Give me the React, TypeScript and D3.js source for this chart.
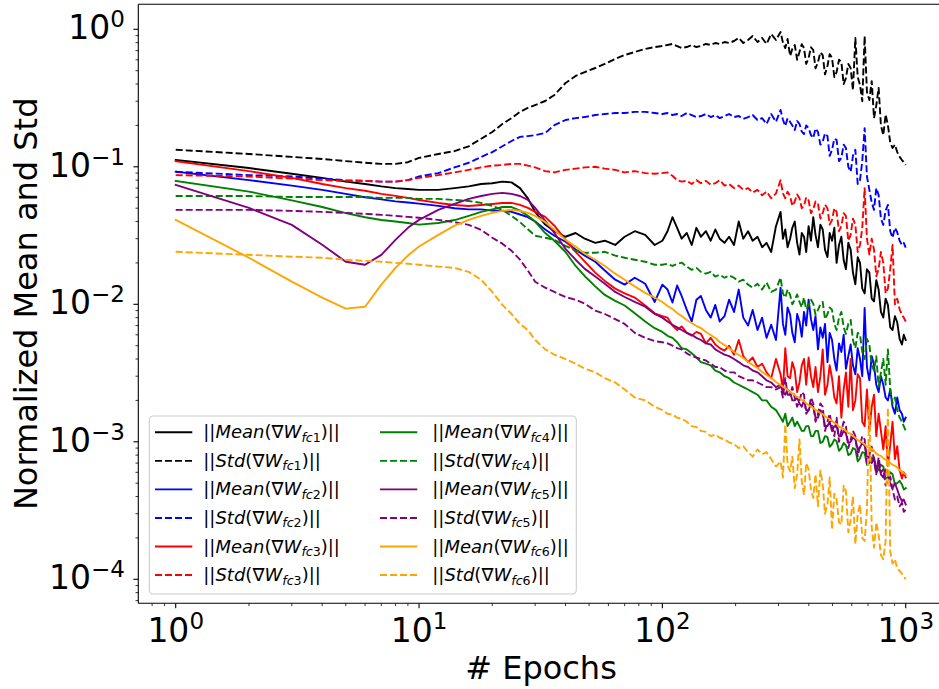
import React from "react";
import * as d3 from "d3";

// ---------------- data ----------------
const epochs = [
  1, 2, 3, 4, 5, 6, 7, 8, 9, 10, 12, 14, 16, 18, 20, 22, 24, 26, 28, 30,
  33, 36, 40, 44, 48, 53, 58, 64, 70, 77, 85, 93,
  100, 105, 110, 115, 120, 126, 132, 138, 144, 151, 158, 165, 172, 180, 188,
  197, 206, 215, 225, 235, 246, 257, 268, 280, 293,
  306, 313, 320, 327, 335, 342, 350, 358, 366, 374, 382, 390, 399, 408, 417,
  426, 436, 446, 456, 466, 477, 487, 498, 509, 520, 532, 544, 556, 568, 581,
  594, 607, 621, 635, 649, 663, 678, 693, 709, 725, 741, 757, 774, 791, 809,
  827, 845, 864, 883, 903, 923, 944, 965, 982, 1000,
];

const meanFc1 = [
  0.112, 0.098, 0.089, 0.083, 0.078, 0.075, 0.072, 0.070, 0.069, 0.068,
  0.068, 0.070, 0.072, 0.075, 0.076, 0.078, 0.077, 0.070, 0.059, 0.047,
  0.038, 0.034, 0.031, 0.033, 0.030, 0.028, 0.029, 0.027, 0.031, 0.034, 0.032, 0.027,
  0.029, 0.034, 0.043, 0.036, 0.030, 0.033, 0.027, 0.036, 0.031, 0.034,
  0.029, 0.035, 0.030, 0.028, 0.031, 0.027, 0.040, 0.030, 0.034, 0.029,
  0.031, 0.026, 0.028, 0.024, 0.037,
  0.047, 0.030, 0.035, 0.026, 0.030,
  0.036, 0.040, 0.028, 0.023, 0.033,
  0.031, 0.024, 0.037, 0.029, 0.043,
  0.032, 0.026, 0.038, 0.035, 0.025,
  0.022, 0.033, 0.029, 0.036, 0.020,
  0.027, 0.031, 0.021, 0.018, 0.028,
  0.025, 0.017, 0.014, 0.022, 0.020,
  0.013, 0.012, 0.018, 0.017, 0.011,
  0.0105, 0.015, 0.0128, 0.0088, 0.0080,
  0.0110, 0.0099, 0.0068, 0.0065, 0.0082,
  0.0074, 0.0056, 0.0051, 0.0060, 0.0055,
];

const stdFc1 = [
  0.133, 0.124, 0.118, 0.114, 0.110, 0.107, 0.105, 0.105, 0.108, 0.116,
  0.124, 0.130, 0.141, 0.160, 0.179, 0.205, 0.226, 0.251, 0.268, 0.281,
  0.301, 0.333, 0.407, 0.458, 0.489, 0.523, 0.560, 0.608, 0.650, 0.684, 0.719, 0.743,
  0.756, 0.769, 0.782, 0.756, 0.731, 0.743, 0.769, 0.743, 0.756, 0.782,
  0.769, 0.795, 0.782, 0.808, 0.795, 0.822, 0.865, 0.795, 0.836, 0.894,
  0.808, 0.865, 0.782, 0.924, 0.836,
  0.956, 0.80, 0.731, 0.85, 0.640,
  0.72, 0.769, 0.60, 0.684, 0.78,
  0.731, 0.56, 0.618, 0.74, 0.707,
  0.52, 0.578, 0.68, 0.650, 0.47,
  0.541, 0.66, 0.618, 0.45, 0.489,
  0.60, 0.578, 0.40, 0.442, 0.56,
  0.523, 0.36, 0.865, 0.45, 0.394,
  0.30, 0.894, 0.35, 0.306, 0.42,
  0.226, 0.28, 0.375, 0.20, 0.170,
  0.24, 0.201, 0.15, 0.137, 0.145,
  0.128, 0.118, 0.112, 0.108, 0.103,
];

const meanFc2 = [
  0.092, 0.080, 0.073, 0.068, 0.0635, 0.060, 0.058, 0.056, 0.055, 0.054,
  0.052, 0.050, 0.049, 0.049, 0.048, 0.048, 0.047, 0.045, 0.043, 0.040,
  0.035, 0.0315, 0.0285, 0.025, 0.0226, 0.0204, 0.0176, 0.0151, 0.0139, 0.0156, 0.0141, 0.0104,
  0.0139, 0.0128, 0.0103, 0.0137, 0.0115, 0.0091, 0.0075, 0.0108, 0.0115, 0.0091,
  0.0080, 0.0099, 0.0075, 0.0082, 0.0108, 0.0088, 0.0128, 0.0080, 0.0070, 0.0091,
  0.0065, 0.0080, 0.0057, 0.0071, 0.0055,
  0.0132, 0.0072, 0.0060, 0.0095, 0.0084,
  0.0062, 0.0053, 0.0085, 0.0075, 0.0058,
  0.0088, 0.0070, 0.0108, 0.0078, 0.0065,
  0.0082, 0.0047, 0.0068, 0.0057, 0.0072,
  0.0038, 0.0062, 0.0055, 0.0040, 0.0033,
  0.0052, 0.0045, 0.0060, 0.0034, 0.0042,
  0.0051, 0.0036, 0.0031, 0.0048, 0.0040,
  0.0030, 0.0094, 0.0035, 0.0028, 0.0042,
  0.0036, 0.0026, 0.0023, 0.0030, 0.0026,
  0.0021, 0.0020, 0.0024, 0.0018, 0.0016,
  0.0021, 0.0017, 0.0016, 0.0014, 0.0015,
];

const stdFc2 = [
  0.092, 0.087, 0.085, 0.082, 0.080, 0.079, 0.078, 0.078, 0.080, 0.085,
  0.090, 0.099, 0.107, 0.118, 0.128, 0.141, 0.154, 0.165, 0.167, 0.170,
  0.176, 0.201, 0.219, 0.226, 0.230, 0.238, 0.242, 0.246, 0.246, 0.251, 0.251, 0.246,
  0.242, 0.246, 0.238, 0.242, 0.234, 0.246, 0.238, 0.230, 0.234, 0.242,
  0.230, 0.238, 0.226, 0.234, 0.242, 0.230, 0.234, 0.223, 0.230, 0.238,
  0.219, 0.226, 0.205, 0.242, 0.212,
  0.259, 0.22, 0.198, 0.225, 0.212,
  0.20, 0.185, 0.215, 0.205, 0.18,
  0.173, 0.20, 0.191, 0.17, 0.162,
  0.19, 0.179, 0.145, 0.152, 0.175,
  0.167, 0.12, 0.133, 0.16, 0.157,
  0.11, 0.116, 0.145, 0.137, 0.10,
  0.092, 0.12, 0.133, 0.075, 0.080,
  0.11, 0.191, 0.085, 0.068, 0.055,
  0.0486, 0.070, 0.0624, 0.042, 0.0378,
  0.048, 0.0528, 0.034, 0.0305, 0.036,
  0.0334, 0.029, 0.0271, 0.028, 0.0258,
];

const meanFc3 = [
  0.110, 0.093, 0.083, 0.075, 0.070, 0.067, 0.0635, 0.0614, 0.0594, 0.0574,
  0.0546, 0.0528, 0.0519, 0.0528, 0.0537, 0.0546, 0.0546, 0.0528, 0.0502, 0.0470,
  0.0432, 0.0373, 0.0294, 0.0241, 0.0204, 0.0170, 0.0148, 0.0130, 0.0120, 0.0112, 0.0098, 0.0086,
  0.0082, 0.0080, 0.0070, 0.0065, 0.0069, 0.0062, 0.0059, 0.0063, 0.0061, 0.0052,
  0.0057, 0.0051, 0.0048, 0.0046, 0.0050, 0.0043, 0.0055, 0.0042, 0.0038, 0.0041,
  0.0035, 0.0037, 0.0032, 0.0029, 0.0040,
  0.0031, 0.0024, 0.0048, 0.0030, 0.0029,
  0.0038, 0.0033, 0.0023, 0.0027, 0.0036,
  0.0040, 0.0026, 0.0041, 0.0030, 0.0025,
  0.0035, 0.0023, 0.0030, 0.0047, 0.0022,
  0.0026, 0.0036, 0.0029, 0.0021, 0.0019,
  0.0030, 0.0015, 0.0024, 0.0032, 0.0018,
  0.0040, 0.0017, 0.0020, 0.0031, 0.0029,
  0.0014, 0.0013, 0.0024, 0.0012, 0.0018,
  0.0022, 0.0011, 0.0016, 0.0012, 0.00088,
  0.0013, 0.00067, 0.00095, 0.0014, 0.00075,
  0.00093, 0.00062, 0.00054, 0.00060, 0.00055,
];

const stdFc3 = [
  0.087, 0.085, 0.082, 0.080, 0.079, 0.079, 0.078, 0.078, 0.080, 0.083,
  0.087, 0.091, 0.095, 0.099, 0.102, 0.103, 0.105, 0.105, 0.102, 0.099,
  0.093, 0.091, 0.095, 0.097, 0.099, 0.100, 0.097, 0.095, 0.091, 0.093, 0.090, 0.089,
  0.090, 0.091, 0.086, 0.080, 0.078, 0.079, 0.075, 0.080, 0.076, 0.079,
  0.074, 0.076, 0.080, 0.073, 0.075, 0.070, 0.073, 0.068, 0.070, 0.065,
  0.068, 0.062, 0.066, 0.059, 0.064,
  0.080, 0.064, 0.059, 0.066, 0.061,
  0.052, 0.056, 0.063, 0.059, 0.050,
  0.052, 0.060, 0.057, 0.046, 0.049,
  0.056, 0.054, 0.042, 0.046, 0.053,
  0.050, 0.038, 0.041, 0.050, 0.047,
  0.034, 0.037, 0.046, 0.044, 0.029,
  0.032, 0.042, 0.038, 0.024, 0.027,
  0.036, 0.070, 0.030, 0.023, 0.030,
  0.025, 0.016, 0.018, 0.024, 0.020,
  0.012, 0.013, 0.018, 0.027, 0.010,
  0.011, 0.0092, 0.0084, 0.0080, 0.0075,
];

const meanFc4 = [
  0.079, 0.066, 0.057, 0.051, 0.046, 0.043, 0.041, 0.040, 0.039, 0.038,
  0.039, 0.041, 0.044, 0.047, 0.049, 0.051, 0.051, 0.048, 0.044, 0.040,
  0.033, 0.029, 0.024, 0.019, 0.016, 0.0135, 0.0117, 0.0106, 0.0098, 0.0086, 0.0075, 0.0067,
  0.0063, 0.0059, 0.0057, 0.0053, 0.0048, 0.0047, 0.0044, 0.0041, 0.0038, 0.0037,
  0.0036, 0.0033, 0.0032, 0.0030, 0.0029, 0.0027, 0.0026, 0.0025, 0.0024, 0.0023,
  0.0022, 0.0020, 0.0020, 0.0018, 0.0017,
  0.0015, 0.0014, 0.0016, 0.0013, 0.0014,
  0.0015, 0.0013, 0.0014, 0.0013, 0.0012,
  0.0012, 0.0013, 0.0013, 0.0011, 0.0011,
  0.0012, 0.0012, 0.00098, 0.0010, 0.0011,
  0.00108, 0.00092, 0.00096, 0.00104, 0.00101,
  0.00086, 0.00090, 0.00098, 0.00094, 0.00080,
  0.00082, 0.00090, 0.00088, 0.00072, 0.00076,
  0.00084, 0.00083, 0.00068, 0.00070, 0.00077,
  0.00074, 0.00060, 0.00063, 0.00068, 0.00066,
  0.00054, 0.00055, 0.00060, 0.00058, 0.00049,
  0.00050, 0.00052, 0.00049, 0.00045, 0.00046,
];

const stdFc4 = [
  0.0613, 0.0613, 0.0603, 0.0603, 0.0603, 0.0603, 0.0594, 0.0594, 0.0594, 0.0584,
  0.0584, 0.0574, 0.0564, 0.0546, 0.0519, 0.0486, 0.0440, 0.0396, 0.0351, 0.0315,
  0.0305, 0.0294, 0.0266, 0.0245, 0.0237, 0.0237, 0.0241, 0.0226, 0.0218, 0.0211, 0.0204, 0.0194,
  0.0194, 0.0197, 0.0190, 0.0197, 0.0201, 0.0188, 0.0178, 0.0184, 0.0172, 0.0167,
  0.0172, 0.0159, 0.0164, 0.0156, 0.0162, 0.0156, 0.0146, 0.0151, 0.0139, 0.0132,
  0.0141, 0.0128, 0.0144, 0.0123, 0.0128,
  0.0156, 0.0120, 0.0112, 0.0128, 0.0117,
  0.0100, 0.0108, 0.0118, 0.0104, 0.0095,
  0.0112, 0.0092, 0.0098, 0.0108, 0.0101,
  0.0084, 0.0091, 0.0100, 0.0104, 0.0078,
  0.0085, 0.0095, 0.0091, 0.0072, 0.0065,
  0.0080, 0.0088, 0.0068, 0.0061, 0.0072,
  0.0077, 0.0055, 0.0048, 0.0062, 0.0060,
  0.0045, 0.0040, 0.0056, 0.0051, 0.0036,
  0.0033, 0.0042, 0.0025, 0.0032, 0.0040,
  0.0026, 0.0047, 0.0024, 0.0019, 0.0021,
  0.0017, 0.0015, 0.0014, 0.0013, 0.0012,
];

const meanFc5 = [
  0.0738, 0.0502, 0.0378, 0.0271, 0.0204, 0.0194, 0.0229, 0.0294, 0.0360, 0.0411,
  0.0486, 0.0537, 0.0584, 0.0613, 0.0635, 0.0646, 0.0635, 0.0613, 0.0574, 0.0502,
  0.0404, 0.0330, 0.0253, 0.0211, 0.0181, 0.0159, 0.0141, 0.0123, 0.0113, 0.0104, 0.0096, 0.0085,
  0.0080, 0.0075, 0.0071, 0.0068, 0.0065, 0.0062, 0.0060, 0.0057, 0.0055, 0.0052,
  0.0051, 0.0047, 0.0045, 0.0043, 0.0042, 0.0040, 0.0038, 0.0036, 0.0035, 0.0033,
  0.0032, 0.0030, 0.0028, 0.0027, 0.0025,
  0.0026, 0.0023, 0.0022, 0.0024, 0.0023,
  0.0020, 0.0020, 0.0021, 0.0019, 0.0018,
  0.0020, 0.0017, 0.0017, 0.0019, 0.0018,
  0.0015, 0.0015, 0.0017, 0.0016, 0.0013,
  0.0013, 0.0014, 0.0012, 0.0013, 0.0013,
  0.0011, 0.0011, 0.0012, 0.00115, 0.00098,
  0.00100, 0.00108, 0.00104, 0.00088, 0.00091,
  0.00098, 0.00094, 0.00078, 0.00081, 0.00070,
  0.00077, 0.00064, 0.00069, 0.00058, 0.00055,
  0.00063, 0.00061, 0.00049, 0.00046, 0.00050,
  0.00045, 0.00040, 0.00037, 0.00038, 0.00035,
];

const stdFc5 = [
  0.0486, 0.0486, 0.0478, 0.0470, 0.0462, 0.0455, 0.0447, 0.0440, 0.0432, 0.0426,
  0.0411, 0.0396, 0.0378, 0.0348, 0.0305, 0.0276, 0.0245, 0.0211, 0.0176, 0.0146,
  0.0132, 0.0123, 0.0113, 0.0108, 0.0101, 0.0090, 0.0085, 0.0078, 0.0072, 0.0062, 0.0057, 0.0054,
  0.0053, 0.0052, 0.0050, 0.0048, 0.0047, 0.0044, 0.0042, 0.0041, 0.0040, 0.0039,
  0.0037, 0.0035, 0.0035, 0.0033, 0.0032, 0.0032, 0.0030, 0.0029, 0.0028, 0.0028,
  0.0027, 0.0026, 0.0025, 0.0025, 0.0024,
  0.0025, 0.0021, 0.0029, 0.0022, 0.0022,
  0.0025, 0.0021, 0.0018, 0.0020, 0.0023,
  0.0022, 0.0016, 0.0017, 0.0021, 0.0019,
  0.0014, 0.0016, 0.0019, 0.0018, 0.0012,
  0.0014, 0.0016, 0.0013, 0.0011, 0.0015,
  0.0010, 0.0012, 0.0014, 0.0013, 0.00090,
  0.00104, 0.0012, 0.0011, 0.00078, 0.00094,
  0.00110, 0.00104, 0.00070, 0.00081, 0.00092,
  0.00073, 0.00058, 0.00077, 0.00060, 0.00063,
  0.00048, 0.00053, 0.00056, 0.00045, 0.00038,
  0.00040, 0.00034, 0.00036, 0.00031, 0.00032,
];

const meanFc6 = [
  0.0411, 0.0218, 0.0146, 0.0112, 0.0093, 0.0096, 0.0139, 0.0184, 0.0226, 0.0263,
  0.0320, 0.0373, 0.0411, 0.0440, 0.0462, 0.0478, 0.0486, 0.0478, 0.0462, 0.0440,
  0.0396, 0.0348, 0.0294, 0.0263, 0.0233, 0.0211, 0.0190, 0.0167, 0.0151, 0.0135, 0.0121, 0.0112,
  0.01039, 0.00972, 0.00924, 0.00865, 0.00822, 0.00769, 0.00731, 0.00695, 0.00672, 0.00629,
  0.00598, 0.00569, 0.00532, 0.00506, 0.00481, 0.00450, 0.00428, 0.00407, 0.00381, 0.00362,
  0.00344, 0.00322, 0.00306, 0.00291, 0.00272,
  0.00259, 0.00251, 0.00246, 0.00239, 0.00230,
  0.00225, 0.00219, 0.00212, 0.00208, 0.00202,
  0.00198, 0.00190, 0.00185, 0.00181, 0.00176,
  0.00170, 0.00167, 0.00162, 0.00159, 0.00153,
  0.00149, 0.00146, 0.00142, 0.00137, 0.00135,
  0.00129, 0.00126, 0.00124, 0.00120, 0.00116,
  0.00114, 0.00110, 0.00107, 0.00103, 0.00101,
  0.00099, 0.00096, 0.00092, 0.00090, 0.00089,
  0.00086, 0.00082, 0.00080, 0.00079, 0.00076,
  0.00074, 0.00073, 0.00070, 0.00068, 0.00067,
  0.00065, 0.00062, 0.00061, 0.00059, 0.00058,
];

const stdFc6 = [
  0.0241, 0.0229, 0.0222, 0.0218, 0.0211, 0.0207, 0.0204, 0.0200, 0.0197, 0.0194,
  0.0188, 0.0184, 0.0172, 0.0151, 0.0123, 0.0099, 0.0085, 0.0072, 0.0065, 0.0055,
  0.0047, 0.0043, 0.0040, 0.0037, 0.0034, 0.0032, 0.0029, 0.0027, 0.0024, 0.0021, 0.0020, 0.0018,
  0.0017, 0.0016, 0.00158, 0.0015, 0.00147, 0.0014, 0.0013, 0.00128, 0.0012, 0.00118,
  0.0011, 0.00113, 0.00107, 0.00104, 0.00099, 0.00096, 0.00090, 0.00093, 0.00084, 0.00078,
  0.00088, 0.00081, 0.00084, 0.00075, 0.00066,
  0.00072, 0.00055, 0.00134, 0.00068, 0.00061,
  0.00078, 0.00046, 0.00058, 0.00104, 0.00052,
  0.00041, 0.00070, 0.00063, 0.00045, 0.00039,
  0.00058, 0.00034, 0.00062, 0.00049, 0.00030,
  0.00035, 0.00055, 0.00023, 0.00042, 0.00038,
  0.00026, 0.00025, 0.00048, 0.00044, 0.00022,
  0.00027, 0.00040, 0.00018, 0.00030, 0.00035,
  0.00020, 0.00019, 0.00032, 0.0020, 0.00024,
  0.00017, 0.00026, 0.00021, 0.00015, 0.00014,
  0.00019, 0.00177, 0.00016, 0.00013, 0.00014,
  0.00012, 0.000115, 0.00011, 0.000105, 0.00010,
];

const seriesValues = [
  meanFc1, stdFc1, meanFc2, stdFc2, meanFc3, stdFc3,
  meanFc4, stdFc4, meanFc5, stdFc5, meanFc6, stdFc6,
];
const seriesKind = ["Mean", "Std", "Mean", "Std", "Mean", "Std", "Mean", "Std", "Mean", "Std", "Mean", "Std"];
const seriesLayer = ["1", "1", "2", "2", "3", "3", "4", "4", "5", "5", "6", "6"];
const seriesColors = [
  "#000000", "#000000", "#0000ff", "#0000ff", "#ff0000", "#ff0000",
  "#008000", "#008000", "#800080", "#800080", "#ffa500", "#ffa500",
];

const xMajor = [1, 10, 100, 1000];
const yMajor = [1, 0.1, 0.01, 0.001, 0.0001];
const xExp = ["0", "1", "2", "3"];
const yExp = ["0", "\u22121", "\u22122", "\u22123", "\u22124"];

const xLabel = "# Epochs";
const yLabel = "Normalized Mean and Std";

// ---------------- layout ----------------
const W = 939;
const H = 689;
const L = 138.3;
const R = 943;
const T = 4.3;
const B = 603.3;
const FONT = "DejaVu Sans";

export default function App() {
  const x = d3.scaleLog().domain([1, 1000]).range([175.7, 905.7]);
  const y = d3.scaleLog().domain([1, 1e-4]).range([29.3, 579.3]);

  const minorX: number[] = [];
  for (let k = -1; k <= 3; k++)
    for (let m = 2; m <= 9; m++) {
      const v = m * Math.pow(10, k);
      const px = x(v);
      if (px > L + 0.5 && px < R - 0.5) minorX.push(v);
    }
  const minorY: number[] = [];
  for (let k = -5; k <= 0; k++)
    for (let m = 2; m <= 9; m++) {
      const v = m * Math.pow(10, k);
      const py = y(v);
      if (py > T + 0.5 && py < B - 0.5) minorY.push(v);
    }

  const n = epochs.length;
  const line = (vals: number[]) =>
    d3
      .line<number>()
      .x((_, i) => x(epochs[i]))
      .y((d) => y(d))(vals.slice(0, n)) || "";

  // legend geometry
  const legX = 149.3;
  const legY = 416;
  const legW = 427;
  const legH = 178;
  const rowY0 = 432.3;
  const rowStep = 28.55;
  const colX = [155, 380];
  const handleLen = 37.3;
  const textX = [203.3, 432.3];

  return (
    <svg
      width={W}
      height={H}
      viewBox={`0 0 ${W} ${H}`}
      style={{ position: "absolute", left: 0, top: 0, overflow: "hidden", background: "#fff" }}
      fontFamily={FONT}
    >
      <rect x={0} y={0} width={W} height={H} fill="#ffffff" />
      <defs>
        <clipPath id="plotClip">
          <rect x={L} y={T} width={R - L} height={B - T} />
        </clipPath>
      </defs>

      {/* data lines */}
      <g clipPath="url(#plotClip)" fill="none">
        {seriesValues.map((vals, i) => (
          <path
            key={i}
            d={line(vals)}
            stroke={seriesColors[i]}
            strokeWidth={1.9}
            strokeDasharray={seriesKind[i] === "Std" ? "7,3" : undefined}
            strokeLinejoin="round"
            strokeLinecap={seriesKind[i] === "Std" ? "butt" : "square"}
          />
        ))}
      </g>

      {/* spines */}
      <g stroke="#000" strokeWidth={1.1} fill="none">
        <line x1={L} y1={T} x2={L} y2={B} />
        <line x1={L} y1={B} x2={R} y2={B} />
        <line x1={L} y1={T} x2={R} y2={T} />
        <line x1={R} y1={T} x2={R} y2={B} />
      </g>

      {/* ticks */}
      <g stroke="#000">
        {xMajor.map((v) => (
          <line key={"xM" + v} x1={x(v)} x2={x(v)} y1={B} y2={B + 4.9} strokeWidth={1.1} />
        ))}
        {minorX.map((v) => (
          <line key={"xm" + v} x1={x(v)} x2={x(v)} y1={B} y2={B + 2.8} strokeWidth={0.8} />
        ))}
        {yMajor.map((v) => (
          <line key={"yM" + v} x1={L} x2={L - 4.9} y1={y(v)} y2={y(v)} strokeWidth={1.1} />
        ))}
        {minorY.map((v) => (
          <line key={"ym" + v} x1={L} x2={L - 2.8} y1={y(v)} y2={y(v)} strokeWidth={0.8} />
        ))}
      </g>

      {/* tick labels */}
      <g fill="#000" fontSize={33}>
        {xMajor.map((v, i) => (
          <text key={"xl" + v} x={x(v)} y={641.7} textAnchor="middle">
            10
            <tspan dy={-13} fontSize={23}>
              {xExp[i]}
            </tspan>
          </text>
        ))}
        {yMajor.map((v, i) => (
          <text key={"yl" + v} x={125} y={y(v) + 10} textAnchor="end">
            10
            <tspan dy={-12} fontSize={23}>
              {yExp[i]}
            </tspan>
          </text>
        ))}
      </g>

      {/* axis labels */}
      <text x={541} y={679} textAnchor="middle" fontSize={32} fill="#000">
        {xLabel}
      </text>
      <text
        transform={`translate(37, ${(T + B) / 2}) rotate(-90)`}
        textAnchor="middle"
        fontSize={32}
        fill="#000"
      >
        {yLabel}
      </text>

      {/* legend */}
      <rect
        x={legX}
        y={legY}
        width={legW}
        height={legH}
        rx={4}
        fill="#ffffff"
        fillOpacity={0.8}
        stroke="#cccccc"
        strokeWidth={1.1}
      />
      {seriesValues.map((_, i) => {
        const col = i < 6 ? 0 : 1;
        const row = i % 6;
        const ly = rowY0 + row * rowStep;
        return (
          <g key={"leg" + i}>
            <line
              x1={colX[col]}
              x2={colX[col] + handleLen}
              y1={ly}
              y2={ly}
              stroke={seriesColors[i]}
              strokeWidth={1.9}
              strokeDasharray={seriesKind[i] === "Std" ? "7,3" : undefined}
            />
            <text x={textX[col]} y={ly + 6} fontSize={18} fill="#000">
              <tspan>||</tspan>
              <tspan fontStyle="italic">{seriesKind[i]}</tspan>
              <tspan>(∇</tspan>
              <tspan fontStyle="italic">W</tspan>
              <tspan fontStyle="italic" fontSize={12.6} dy={3.5}>
                fc
              </tspan>
              <tspan fontSize={12.6}>{seriesLayer[i]}</tspan>
              <tspan dy={-3.5}>)||</tspan>
            </text>
          </g>
        );
      })}
    </svg>
  );
}
